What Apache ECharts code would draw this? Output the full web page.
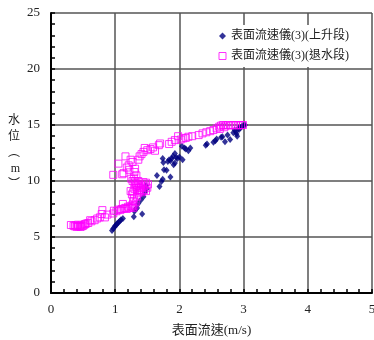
<!DOCTYPE html>
<html><head><meta charset="utf-8">
<script src="https://cdn.jsdelivr.net/npm/echarts@6/dist/echarts.min.js"></script>
<style>html,body{margin:0;padding:0;background:#fff;overflow:hidden}#c{width:374px;height:340px}</style>
</head><body><div id="c"></div>
<script>
var seriesNames = ['表面流速儀(3)(上升段)', '表面流速儀(3)(退水段)'];
var xAxisName = '表面流速(m/s)';
var yAxisName = '水\n位\n︵\nm\n︶';
var riseData = [
[0.95,5.57],[0.97,5.75],[0.99,5.9],[1.00,6.0],[1.02,6.1],[1.03,6.2],[1.05,6.3],[1.07,6.4],[1.09,6.55],[1.12,6.65],
[1.29,6.8],[1.42,7.05],[1.30,7.3],[1.32,7.5],[1.34,7.6],[1.36,8.0],[1.40,8.3],[1.44,8.6],[1.46,9.0],[1.49,9.3],
[1.48,9.6],[1.69,9.5],[1.72,9.95],[1.74,10.15],[1.65,10.5],[1.86,10.35],[1.76,11.0],[1.80,10.95],[1.74,12.0],[1.75,11.65],
[1.82,11.75],[1.84,11.9],[1.86,11.8],[1.88,12.0],[1.90,12.2],[1.93,12.45],[1.95,12.1],[1.91,11.45],[1.93,11.6],[1.97,12.0],
[2.00,12.15],[2.05,11.9],[2.04,13.1],[2.08,12.95],[2.10,12.85],[2.14,12.7],[2.17,12.95],[2.41,13.2],[2.43,13.3],[2.53,13.45],
[2.56,13.6],[2.58,13.75],[2.65,13.9],[2.67,13.95],[2.71,13.5],[2.75,14.1],[2.79,13.7],[2.84,14.3],[2.86,14.55],[2.88,14.4],
[2.90,14.0],[2.92,14.7],[2.95,14.75],[2.97,14.85],[2.99,14.95],[3.02,15.0],[2.93,14.6],[2.89,14.2]
];
var fallData = [
[0.31,6.07],[0.35,6.0],[0.37,5.95],[0.38,6.05],[0.40,5.9],[0.41,6.0],[0.42,6.1],[0.43,5.95],[0.45,6.0],[0.46,5.9],
[0.47,6.05],[0.48,5.95],[0.50,6.0],[0.52,6.1],[0.53,6.15],[0.55,6.2],[0.58,6.25],[0.61,6.5],[0.63,6.4],[0.68,6.5],
[0.72,6.65],[0.76,6.75],[0.80,7.4],[0.79,7.05],[0.84,6.75],[0.88,7.0],[0.97,7.1],[0.98,7.35],[1.02,7.3],[1.05,7.45],
[1.08,7.4],[1.10,7.5],[1.12,7.95],[1.14,7.55],[1.16,7.6],[1.18,7.5],[1.20,7.7],[1.22,7.6],[1.24,7.75],[1.26,7.7],
[1.27,7.9],[1.28,8.2],[1.29,8.5],[1.26,8.8],[1.24,9.1],[1.28,9.0],[1.30,9.3],[1.32,9.5],[1.30,9.8],[1.27,10.0],
[1.25,10.2],[1.29,10.3],[1.31,10.0],[1.33,9.7],[1.35,9.6],[1.37,9.4],[1.39,9.2],[1.42,9.0],[1.45,9.2],[1.48,9.1],
[1.50,9.4],[1.51,9.7],[1.48,9.85],[1.44,9.9],[1.40,9.7],[1.36,10.0],[1.33,10.5],[1.30,10.8],[0.97,10.55],[1.05,11.55],
[1.11,10.6],[1.13,10.7],[1.16,12.2],[1.18,11.2],[1.21,11.4],[1.22,11.0],[1.24,11.9],[1.27,11.7],[1.31,11.1],[1.36,11.9],
[1.38,12.2],[1.41,12.4],[1.44,12.6],[1.46,12.95],[1.50,12.75],[1.55,12.85],[1.59,13.0],[1.62,12.7],[1.68,13.2],[1.70,13.35],
[1.84,13.3],[1.88,13.5],[1.93,13.65],[1.98,14.0],[2.02,13.7],[2.06,13.8],[2.10,13.85],[2.14,13.95],[2.20,14.0],[2.30,14.1],
[2.36,14.25],[2.42,14.35],[2.48,14.45],[2.53,14.55],[2.58,14.7],[2.62,14.85],[2.65,14.95],[2.68,15.0],[2.72,14.95],[2.76,15.0],
[2.80,14.95],[2.84,15.0],[2.88,15.0],[2.92,14.95],[2.96,15.0],[2.99,15.0],[2.63,14.65],[2.70,14.8],
[1.28,7.6],[1.30,7.8],[1.32,8.1],[1.34,8.6],[1.36,8.9],[1.38,9.1],[1.40,9.4],[1.43,9.5],[1.46,9.6],[1.34,9.2]
];
var serif = '"Liberation Serif", "Noto Sans CJK TC", serif';
var chart = echarts.init(document.getElementById('c'), null, {renderer:'canvas'});
function axisCommon(){
  return {
    axisLine:{show:true,onZero:false,lineStyle:{color:'#000',width:2}},
    axisTick:{show:true,inside:true,length:4,lineStyle:{color:'#000',width:1.5}},
    minorTick:{show:true,splitNumber:5,length:4,lineStyle:{color:'#000',width:1.5}},
    splitLine:{show:true,lineStyle:{color:'#555',width:1.5}},
    axisLabel:{color:'#222',fontFamily:serif,fontSize:13},
    nameTextStyle:{color:'#222',fontFamily:serif,fontSize:13}
  };
}
var xa = axisCommon();
Object.assign(xa,{type:'value',min:0,max:5,interval:1,name:xAxisName,nameLocation:'middle',nameGap:31});
xa.axisLabel.margin = 10;
var ya = axisCommon();
Object.assign(ya,{type:'value',min:0,max:25,interval:5,name:yAxisName,nameLocation:'middle',nameGap:31,nameRotate:0});
ya.axisLabel.margin = 11;
ya.nameTextStyle.lineHeight = 16;
ya.nameTextStyle.fontSize = 12;
chart.setOption({
  animation:false,
  grid:{left:51,right:2,top:13,bottom:47,containLabel:false,outerBoundsMode:'none'},
  xAxis:xa,
  yAxis:ya,
  legend:{
    orient:'vertical',right:20,top:25,itemGap:8,itemWidth:7,itemHeight:7,
    backgroundColor:'#fff',
    textStyle:{color:'#222',fontFamily:serif,fontSize:12},
    data:[{name:seriesNames[0],icon:'diamond'},{name:seriesNames[1],icon:'rect',itemStyle:{color:'#fff',borderColor:'#ff00ff',borderWidth:1}}]
  },
  series:[
    {name:seriesNames[0],type:'scatter',data:riseData,symbol:'diamond',symbolSize:[6,7],
     itemStyle:{color:'#000080'},z:2},
    {name:seriesNames[1],type:'scatter',data:fallData,symbol:'rect',symbolSize:7,
     itemStyle:{color:'rgba(255,255,255,0)',borderColor:'#ff00ff',borderWidth:1},z:3}
  ]
});
</script></body></html>
